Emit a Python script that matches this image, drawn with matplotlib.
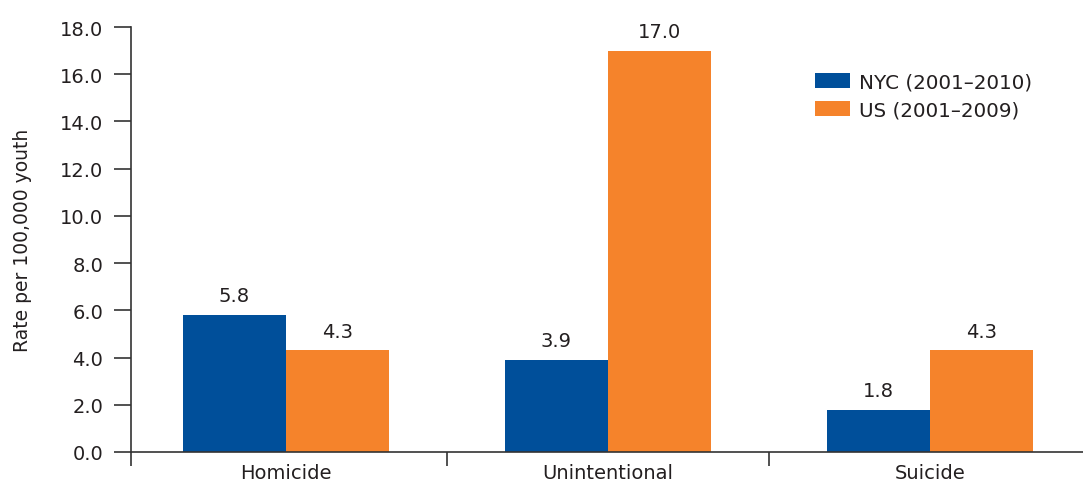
import matplotlib

matplotlib.use("Agg")
import matplotlib.pyplot as plt
import numpy as np

# Injury death rates among youth, by cause
CATEGORIES = ["Homicide", "Unintentional", "Suicide"]
NYC = [5.8, 3.9, 1.8]
US = [4.3, 17.0, 4.3]
SERIES_LABELS = ["NYC (2001\u20132010)", "US (2001\u20132009)"]

BLUE = "#004f9a"
ORANGE = "#f5832b"
TEXT = "#231f20"

plt.rcParams["font.family"] = ["DejaVu Sans"]

fig = plt.figure(figsize=(10.83, 4.81), dpi=100)
ax = fig.add_axes([131 / 1083, 28 / 481, 952 / 1083, 425 / 481])

x = np.arange(len(CATEGORIES))
w = 0.32
b1 = ax.bar(x - w / 2, NYC, w, color=BLUE, label=SERIES_LABELS[0])
b2 = ax.bar(x + w / 2, US, w, color=ORANGE, label=SERIES_LABELS[1])

for bars, vals in ((b1, NYC), (b2, US)):
    for rect, v in zip(bars, vals):
        ax.text(rect.get_x() + rect.get_width() / 2, v + 0.42, f"{v:.1f}",
                ha="center", va="bottom", fontsize=14, color=TEXT)

ax.set_xlim(-0.48, 2.475)
ax.set_ylim(0, 18)
ax.set_yticks(np.arange(0, 18.1, 2))
ax.set_yticklabels([f"{t:.1f}" for t in np.arange(0, 18.1, 2)])
ax.tick_params(axis="y", direction="out", length=12, width=1.2,
               labelsize=14, labelcolor=TEXT, color="#333333", pad=8)

# category labels centred, separator ticks between groups
ax.set_xticks(x)
ax.set_xticklabels(CATEGORIES)
ax.tick_params(axis="x", which="major", length=0, labelsize=14,
               labelcolor=TEXT, pad=8)
ax.set_xticks([-0.48, 0.5, 1.5], minor=True)
ax.tick_params(axis="x", which="minor", direction="out", length=10,
               width=1.2, color="#333333")

ax.set_ylabel("Rate per 100,000 youth", fontsize=13.5, color=TEXT, labelpad=20)

for s in ("top", "right"):
    ax.spines[s].set_visible(False)
ax.spines["left"].set_color("#333333")
ax.spines["left"].set_linewidth(1.2)
ax.spines["bottom"].set_color("#333333")
ax.spines["bottom"].set_linewidth(1.2)

ax.legend(loc="upper left", bbox_to_anchor=(0.7, 0.935), frameon=False,
          fontsize=14.3, handlelength=1.75, handleheight=0.75,
          labelspacing=0.45, handletextpad=0.45, labelcolor=TEXT)

fig.savefig("out.png", dpi=100)
